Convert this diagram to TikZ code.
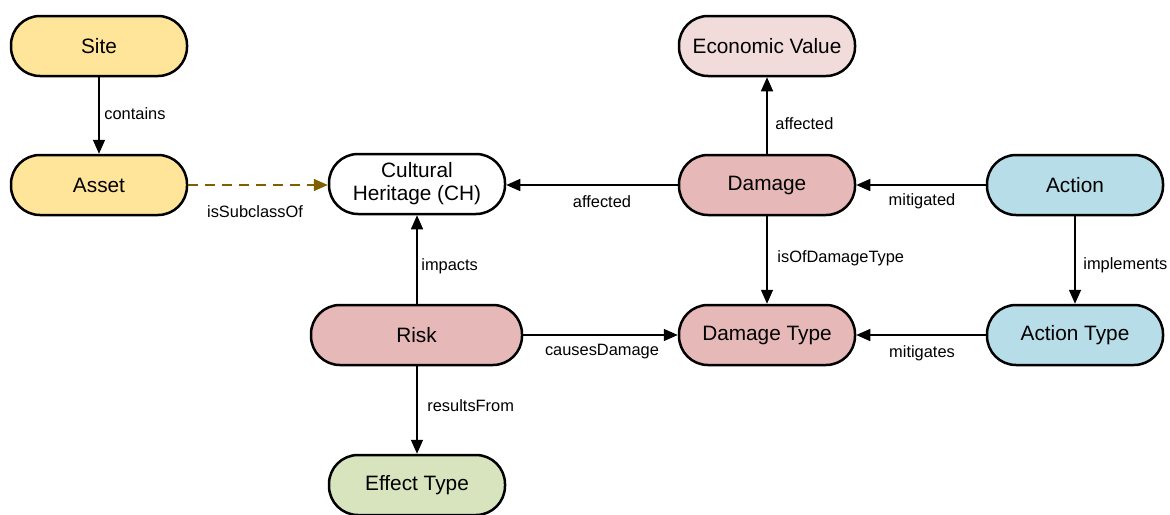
\documentclass[tikz,border=0pt]{standalone}
\usepackage{fontspec}
\setmainfont{Liberation Sans}
\usetikzlibrary{arrows.meta}
\definecolor{siteyellow}{HTML}{FFE599}
\definecolor{ecopink}{HTML}{F2DCDB}
\definecolor{riskred}{HTML}{E6B8B7}
\definecolor{actionblue}{HTML}{B7DDE8}
\definecolor{effectgreen}{HTML}{D7E4BD}
\definecolor{subclassbrown}{HTML}{7F6000}
\begin{document}
\begin{tikzpicture}[x=0.5pt,y=-0.5pt,
  concept/.style={draw=black, line width=1.25pt, rounded corners=14.5pt,
    minimum width=88pt, minimum height=30pt, inner sep=0pt,
    align=center, font=\fontsize{10.4}{11.6}\selectfont},
  rel/.style={line width=0.75pt, -{Triangle[length=7pt,width=6pt]}},
  lbl/.style={font=\fontsize{8.2}{9.5}\selectfont, inner sep=0pt}]
\useasboundingbox (0,0) rectangle (1170,514);

% concepts
\node[concept, fill=siteyellow] (site) at (99,46) {Site};
\node[concept, fill=siteyellow] (asset) at (99,185) {Asset};
\node[concept, fill=white] (ch) at (417,184) {Cultural\\Heritage (CH)};
\node[concept, fill=ecopink] (eco) at (767,46) {Economic Value};
\node[concept, fill=riskred] (damage) at (767,185) {Damage};
\node[concept, fill=actionblue] (action) at (1075,185) {Action};
\node[concept, fill=riskred, minimum width=105.5pt] (risk) at (416.5,335) {Risk};
\node[concept, fill=riskred] (dtype) at (767,335) {Damage Type};
\node[concept, fill=actionblue] (atype) at (1075,335) {Action Type};
\node[concept, fill=effectgreen] (effect) at (417,485) {Effect Type};

% relations
\draw[rel] (site) -- (asset);
\draw[rel, draw=subclassbrown, dashed, dash pattern=on 5pt off 3.5pt,
  -{Triangle[length=7pt,width=6pt,fill=subclassbrown]}] (asset) -- (asset.east -| ch.west);
\draw[rel] (damage.west) -- (damage.west -| ch.east);
\draw[rel] (damage) -- (eco);
\draw[rel] (action) -- (damage);
\draw[rel] (damage) -- (dtype);
\draw[rel] (action) -- (atype);
\draw[rel] (risk.north -| ch.south) -- (ch.south);
\draw[rel] (risk) -- (dtype);
\draw[rel] (atype) -- (dtype);
\draw[rel] (risk.south -| effect.north) -- (effect.north);

% relation labels
\node[lbl, anchor=west] (l1) at (104,114) {contains};
\node[lbl] (l2) at (255,212) {isSubclassOf};
\node[lbl] (l3) at (602,202) {affected};
\node[lbl, anchor=west] (l4) at (775,124) {affected};
\node[lbl] (l5) at (922,201) {mitigated};
\node[lbl, anchor=west] (l6) at (777,258) {isOfDamageType};
\node[lbl, anchor=west] (l7) at (1083,265) {implements};
\node[lbl, anchor=west] (l8) at (421,266) {impacts};
\node[lbl] (l9) at (602,352) {causesDamage};
\node[lbl] (l10) at (922,353) {mitigates};
\node[lbl, anchor=west] (l11) at (427,406) {resultsFrom};
\end{tikzpicture}
\end{document}
